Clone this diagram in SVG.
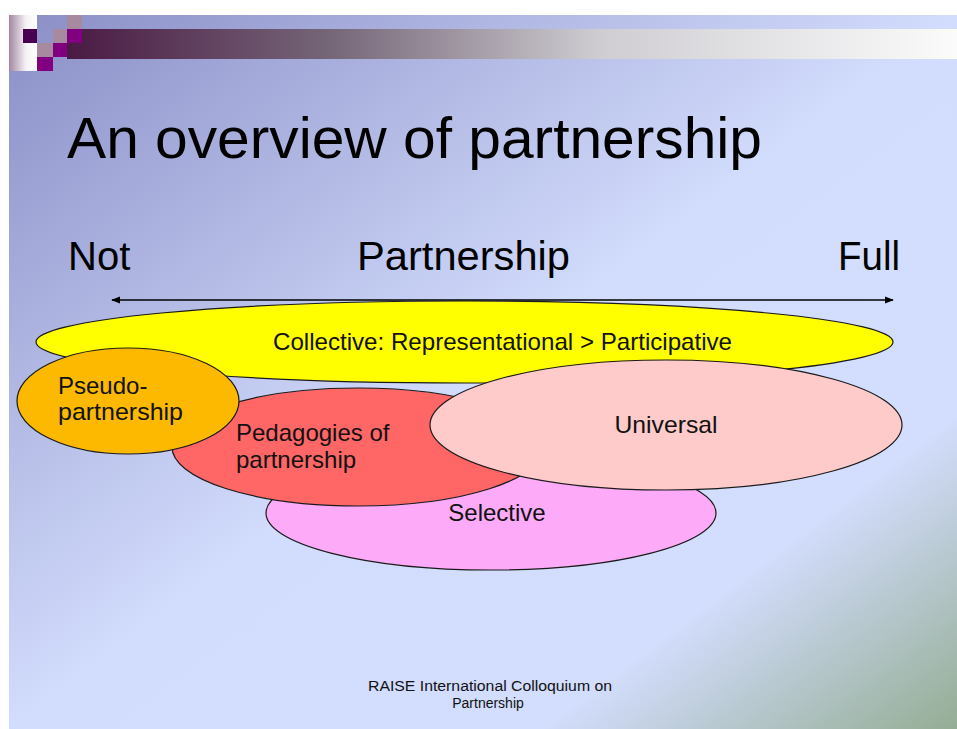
<svg xmlns="http://www.w3.org/2000/svg" width="957" height="729" viewBox="0 0 957 729">
<defs>
<linearGradient id="bg" x1="0" y1="0" x2="1" y2="1">
<stop offset="0" stop-color="#8a8ec6"/>
<stop offset="0.5" stop-color="#d2dcfc"/>
<stop offset="0.78" stop-color="#d3ddfd"/>
<stop offset="1" stop-color="#94ad94"/>
</linearGradient>
<linearGradient id="band" x1="0" y1="0" x2="1" y2="0">
<stop offset="0" stop-color="#4a1a44"/>
<stop offset="0.3" stop-color="#766779"/>
<stop offset="0.6" stop-color="#cfcdd2"/>
<stop offset="1" stop-color="#fbfbfb"/>
</linearGradient>
<linearGradient id="col" x1="0" y1="0" x2="1" y2="0">
<stop offset="0" stop-color="#a486a2"/>
<stop offset="0.6" stop-color="#f4f2f5"/>
<stop offset="1" stop-color="#ffffff"/>
</linearGradient>
<marker id="ah" viewBox="0 0 10 10" refX="9" refY="5" markerWidth="9" markerHeight="9" markerUnits="userSpaceOnUse" orient="auto-start-reverse">
<path d="M0,1 L10,5 L0,9 z" fill="#000"/>
</marker>
</defs>
<style>
.e{stroke:#1a1a1a;stroke-width:1.2}
.t{font-family:"Liberation Sans",Arial,sans-serif;fill:#111}
.big{font-size:40px;fill:#000}
.lbl{font-size:24px}
</style>
<rect x="0" y="0" width="957" height="729" fill="#ffffff"/>
<rect x="9" y="15" width="948" height="714" fill="url(#bg)"/>
<g id="header">
<rect x="9" y="15" width="28" height="56" fill="url(#col)"/>
<rect x="67" y="29" width="890" height="30" fill="url(#band)"/>
<rect x="23" y="29" width="14" height="14" fill="#4a0050"/>
<rect x="67" y="15" width="15" height="14" fill="#a88aa0"/>
<rect x="53" y="29" width="14" height="14" fill="#a88aa0"/>
<rect x="67" y="29" width="15" height="14" fill="#800080"/>
<rect x="37" y="43" width="16" height="14" fill="#a88aa0"/>
<rect x="53" y="43" width="14" height="14" fill="#800080"/>
<rect x="37" y="57" width="16" height="14" fill="#800080"/>
</g>
<text class="t" x="67" y="158" font-size="57" fill="#000" textLength="695" lengthAdjust="spacingAndGlyphs" style="fill:#000">An overview  of partnership</text>
<text class="t big" x="68" y="270">Not</text>
<text class="t big" x="357" y="270" textLength="213" lengthAdjust="spacingAndGlyphs">Partnership</text>
<text class="t big" x="838" y="270" textLength="62" lengthAdjust="spacingAndGlyphs">Full</text>
<g id="connectors">
<line x1="112" y1="300" x2="893" y2="300" stroke="#000" stroke-width="1.3" marker-start="url(#ah)" marker-end="url(#ah)"/>
</g>
<g id="collective">
<ellipse class="e" cx="464.5" cy="342" rx="428.5" ry="41" fill="#ffff00"/>
<text class="t lbl" x="273" y="350" textLength="459" lengthAdjust="spacingAndGlyphs">Collective: Representational &gt; Participative</text>
</g>
<g id="selective">
<ellipse class="e" cx="491" cy="513" rx="225" ry="57" fill="#fdaaf9"/>
<text class="t lbl" x="497" y="521" text-anchor="middle">Selective</text>
</g>
<g id="pedagogies">
<ellipse class="e" cx="358" cy="447" rx="186" ry="59" fill="#ff6666"/>
<text class="t lbl" x="236" y="441">Pedagogies of</text>
<text class="t lbl" x="236" y="468">partnership</text>
</g>
<g id="pseudo">
<ellipse class="e" cx="128" cy="401" rx="111" ry="53" fill="#fcb900"/>
<text class="t lbl" x="58" y="394">Pseudo-</text>
<text class="t lbl" x="58" y="420" textLength="125" lengthAdjust="spacingAndGlyphs">partnership</text>
</g>
<g id="universal">
<ellipse class="e" cx="666" cy="425" rx="236" ry="65" fill="#ffcaca"/>
<text class="t lbl" x="666" y="433" text-anchor="middle" textLength="103" lengthAdjust="spacingAndGlyphs">Universal</text>
</g>
<g id="footer">
<text class="t" x="368" y="691" font-size="14" textLength="244" lengthAdjust="spacingAndGlyphs">RAISE International  Colloquium on</text>
<text class="t" x="488" y="708" font-size="14" text-anchor="middle">Partnership</text>
</g>
</svg>
